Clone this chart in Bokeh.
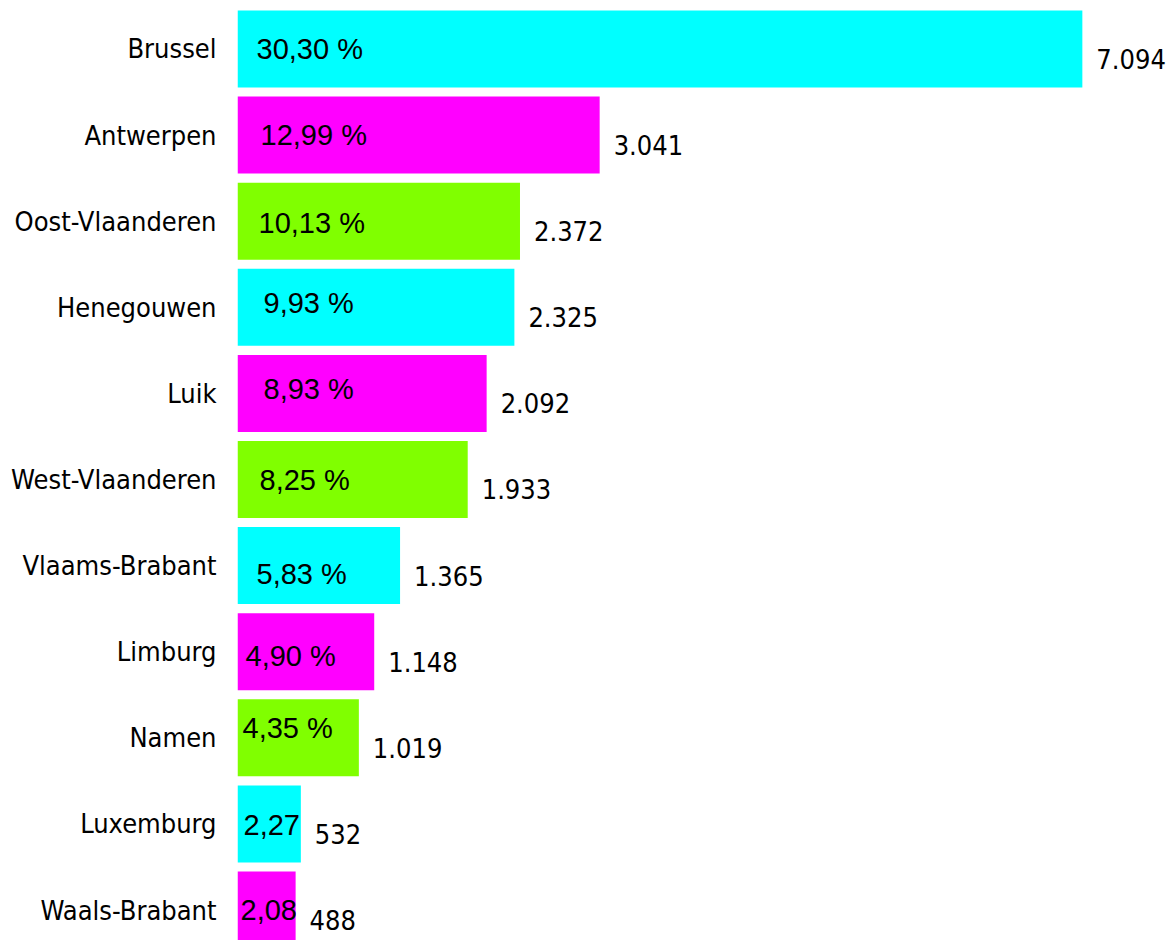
from bokeh.plotting import figure
from bokeh.models import ColumnDataSource, Range1d, FixedTicker
from bokeh.core.properties import value
from bokeh.embed import file_html
from bokeh.resources import INLINE

categories = ["Brussel", "Antwerpen", "Oost-Vlaanderen", "Henegouwen", "Luik",
              "West-Vlaanderen", "Vlaams-Brabant", "Limburg", "Namen",
              "Luxemburg", "Waals-Brabant"]
values = [7094, 3041, 2372, 2325, 2092, 1933, 1365, 1148, 1019, 532, 488]
pct_labels = ["30,30 %", "12,99 %", "10,13 %", "9,93 %", "8,93 %", "8,25 %",
              "5,83 %", "4,90 %", "4,35 %", "2,27", "2,08"]
palette = ["#00FFFF", "#FF00FF", "#80FF00"]

# style: offsets (px) of the percentage label inside each bar
pct_x_offsets = [19, 23, 21, 26, 26, 22, 19, 8, 5, 6, 3]
pct_y_offsets = [0, 0, 2, -4, -4, 1, 8, 4, -10, 1, 0]

NARROW = "'DejaVu Sans Condensed'"

idx = list(range(len(categories)))
src = ColumnDataSource(dict(
    y=idx,
    v=values,
    zero=[0] * len(values),
    color=[palette[i % 3] for i in idx],
    vlabel=[f"{v:,}".replace(",", ".") for v in values],
    plabel=pct_labels,
    pxoff=pct_x_offsets,
    pyoff=pct_y_offsets,
))

p = figure(width=1167, height=940, output_backend="svg", toolbar_location=None,
           x_range=Range1d(0, 7809), y_range=Range1d(10.354, -0.563),
           min_border_left=237, min_border_right=0, min_border_top=0,
           min_border_bottom=0)

p.hbar(y="y", left=0, right="v", height=0.894, color="color", source=src,
       line_color=None)

p.text(x="zero", y="y", text="plabel", x_offset="pxoff", y_offset="pyoff",
       source=src, text_align="left", text_baseline="middle",
       text_font_size="29px", text_font=value("Liberation Sans"),
       text_color="black")

p.text(x="v", y="y", text="vlabel", x_offset=14, y_offset=10, source=src,
       text_align="left", text_baseline="middle", text_font_size="27px",
       text_font=value(NARROW), text_color="black")

p.xaxis.visible = False
p.yaxis.ticker = FixedTicker(ticks=idx)
p.yaxis.major_label_overrides = {i: c for i, c in enumerate(categories)}
p.yaxis.axis_line_color = None
p.yaxis.major_tick_line_color = None
p.yaxis.minor_tick_line_color = None
p.yaxis.major_tick_in = 0
p.yaxis.major_tick_out = 0
p.yaxis.major_label_standoff = 21
p.yaxis.major_label_text_font = NARROW
p.yaxis.major_label_text_font_size = "27px"
p.yaxis.major_label_text_color = "black"
p.xgrid.visible = False
p.ygrid.visible = False
p.outline_line_color = None
p.background_fill_color = "white"
p.border_fill_color = "white"

open("out.html", "w").write(file_html(p, INLINE))
